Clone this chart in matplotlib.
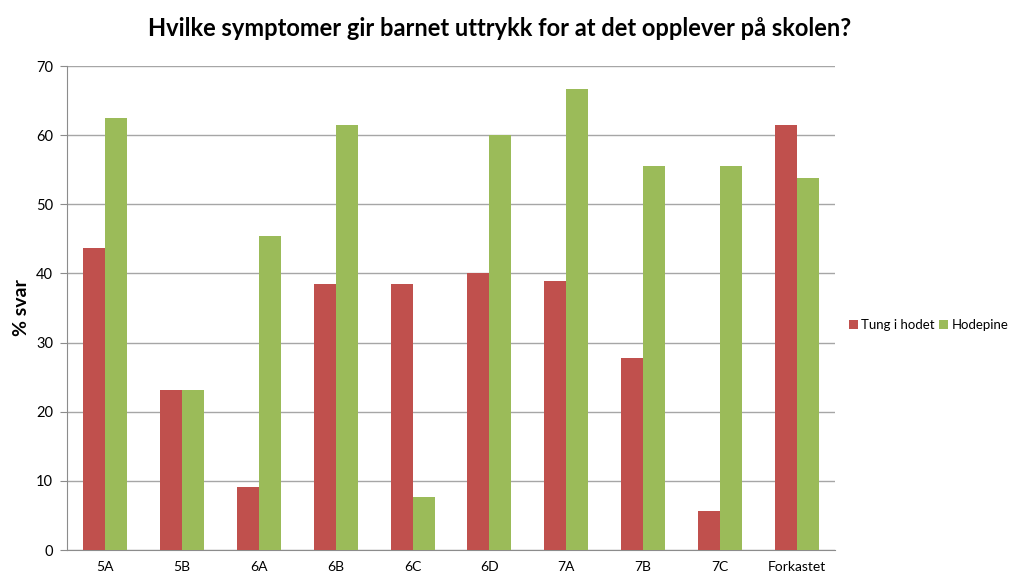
import matplotlib.pyplot as plt
import numpy as np

plt.rcParams['font.family'] = ['Lato', 'DejaVu Sans']

categories = ["5A", "5B", "6A", "6B", "6C", "6D", "7A", "7B", "7C", "Forkastet"]
tung_i_hodet = [43.7, 23.1, 9.1, 38.5, 38.5, 40.0, 38.9, 27.8, 5.6, 61.5]
hodepine = [62.5, 23.1, 45.4, 61.5, 7.7, 60.0, 66.7, 55.6, 55.6, 53.8]

fig = plt.figure(figsize=(10.23, 5.86), dpi=100)
ax = fig.add_axes([67 / 1023, 1 - 550 / 586, 768 / 1023, 484 / 586])

x = np.arange(len(categories))
w = 1 / 3.5
ax.bar(x - w / 2, tung_i_hodet, w, color="#C0504D", label="Tung i hodet", zorder=3)
ax.bar(x + w / 2, hodepine, w, color="#9BBB59", label="Hodepine", zorder=3)

ax.set_xlim(-0.5, len(categories) - 0.5)
ax.set_ylim(0, 70)
ax.set_yticks(range(0, 71, 10))
ax.set_xticks(x)
ax.set_xticklabels(categories)
ax.yaxis.grid(True, color="#A6A6A6", linewidth=1, zorder=0)
for s in ["top", "right"]:
    ax.spines[s].set_visible(False)
for s in ["left", "bottom"]:
    ax.spines[s].set_color("#8C8C8C")
ax.tick_params(axis="y", length=5, color="#8C8C8C", labelsize=10.5, pad=5)
ax.tick_params(axis="x", length=0, labelsize=10, pad=8)

ax.set_ylabel("% svar", fontsize=14, fontweight="bold", labelpad=4)
fig.text(0.488, 1 - 28 / 586, "Hvilke symptomer gir barnet uttrykk for at det opplever på skolen?",
         ha="center", va="center", fontsize=17, fontweight="bold")

fig.legend(loc="center left", bbox_to_anchor=(846 / 1023, 1 - 325 / 586), ncol=2,
           frameon=False, fontsize=9.5, handlelength=0.7, handleheight=0.7,
           handletextpad=0.25, columnspacing=0.3, borderaxespad=0, borderpad=0.2)

fig.savefig("out.png", dpi=100)
